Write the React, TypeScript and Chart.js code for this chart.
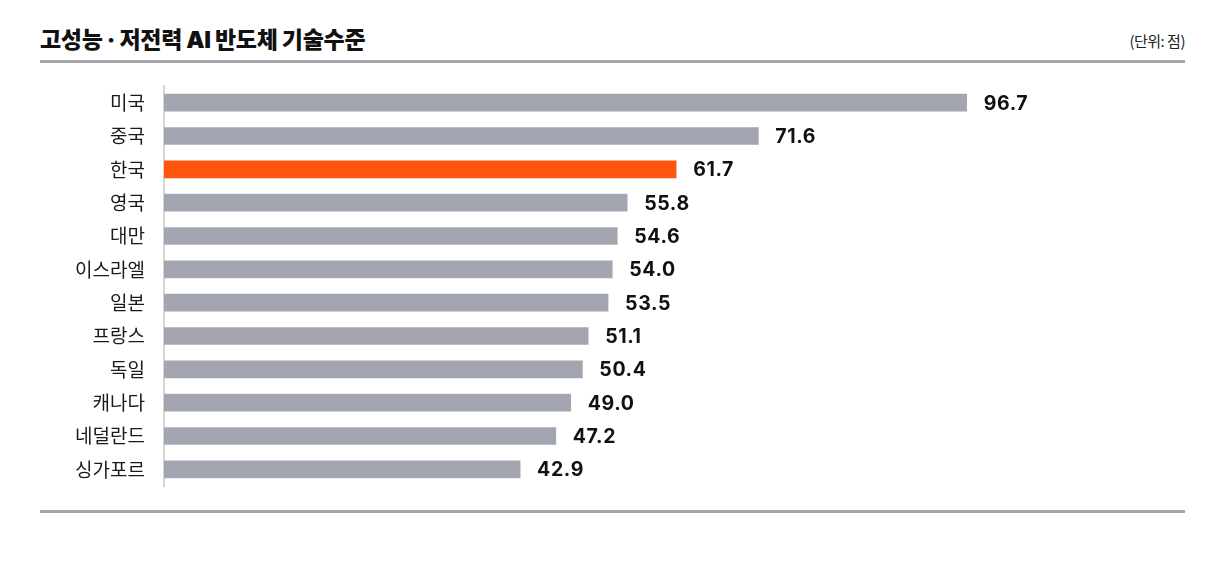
import React, { useEffect, useRef } from "react";
import { Chart, registerables } from "chart.js";

Chart.register(...registerables);

const categories = ["미국", "중국", "한국", "영국", "대만", "이스라엘", "일본", "프랑스", "독일", "캐나다", "네덜란드", "싱가포르"];
const scores = [96.7, 71.6, 61.7, 55.8, 54.6, 54.0, 53.5, 51.1, 50.4, 49.0, 47.2, 42.9];
const highlight = "한국";
const titleText = "고성능 · 저전력 AI 반도체 기술수준";
const unitText = "(단위: 점)";

const GRAY = "#a3a6b0";
const ORANGE = "#ff540d";
const KR = "'Noto Sans CJK KR', 'Noto Sans', sans-serif";
const NUM = "Inter, 'Noto Sans CJK KR', sans-serif";

export default function App() {
  const ref = useRef<HTMLCanvasElement | null>(null);

  useEffect(() => {
    if (!ref.current) return;
    const labelPlugin = {
      id: "valueLabels",
      afterDatasetsDraw(chart: any) {
        const ctx = chart.ctx;
        const meta = chart.getDatasetMeta(0);
        ctx.save();
        ctx.font = `bold 19.5px ${NUM}`;
        (ctx as any).letterSpacing = "0.6px";
        ctx.fillStyle = "#111111";
        ctx.textAlign = "left";
        ctx.textBaseline = "middle";
        meta.data.forEach((bar: any, i: number) => {
          ctx.fillText(scores[i].toFixed(1), bar.x + 17, bar.y + 1);
        });
        ctx.restore();
      },
    };
    const chart = new Chart(ref.current, {
      type: "bar",
      data: {
        labels: categories,
        datasets: [
          {
            data: scores,
            backgroundColor: categories.map((c) => (c === highlight ? ORANGE : GRAY)),
            borderWidth: 0,
            barThickness: 17,
          },
        ],
      },
      options: {
        indexAxis: "y",
        animation: false,
        responsive: false,
        maintainAspectRatio: false,
        layout: { padding: { left: 0, right: 32, top: 86, bottom: 78 } },
        plugins: { legend: { display: false }, tooltip: { enabled: false } },
        scales: {
          x: { display: false, min: 0, max: 123 },
          y: {
            afterFit: (s: any) => {
              s.width = 164;
            },
            grid: { display: true, color: "rgba(0,0,0,0)", drawTicks: false },
            border: { display: true, color: "#d6d6d8", width: 2 },
            ticks: {
              padding: 19,
              color: "#1a1a1a",
              font: { family: KR, size: 19 },
            },
          },
        },
      },
      plugins: [labelPlugin],
    });
    return () => chart.destroy();
  }, []);

  return (
    <div style={{ position: "fixed", left: 0, top: 0, width: 1217, height: 564, background: "#ffffff", overflow: "hidden" }}>
      <div
        style={{
          position: "absolute",
          left: 40,
          top: 25,
          fontFamily: "Inter, " + KR,
          fontWeight: 900,
          fontSize: 23,
          letterSpacing: -0.3,
          color: "#111111",
          lineHeight: "30px",
          whiteSpace: "nowrap",
        }}
      >
        {titleText}
      </div>
      <div
        style={{
          position: "absolute",
          right: 1217 - 1185,
          top: 30,
          fontFamily: KR,
          fontSize: 15,
          letterSpacing: -0.5,
          color: "#222222",
          lineHeight: "22px",
          whiteSpace: "nowrap",
        }}
      >
        {unitText}
      </div>
      <div style={{ position: "absolute", left: 40, top: 60, width: 1145, height: 3, background: "#a3a5ae" }} />
      <div style={{ position: "absolute", left: 40, top: 510, width: 1145, height: 3, background: "#a3a5ae" }} />
      <canvas ref={ref} width={1217} height={564} style={{ position: "absolute", left: 0, top: 0, width: 1217, height: 564 }} />
    </div>
  );
}
